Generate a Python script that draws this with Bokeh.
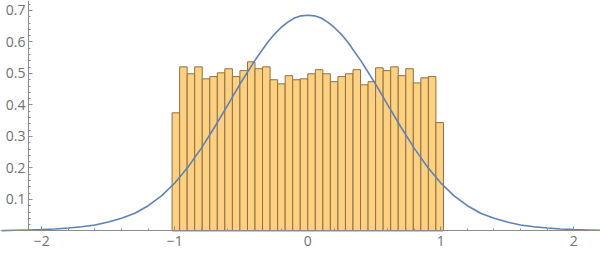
from bokeh.plotting import figure
from bokeh.models import LinearAxis, FixedTicker, Range1d, ColumnDataSource
from bokeh.embed import file_html
from bokeh.resources import INLINE

# Histogram: 36 bins
bin_start = -1.0203
bin_width = 0.05668
bar_heights = [0.375, 0.521, 0.499, 0.521, 0.483, 0.490, 0.502, 0.515, 0.490,
               0.509, 0.537, 0.515, 0.521, 0.480, 0.467, 0.493, 0.480, 0.483,
               0.499, 0.512, 0.499, 0.474, 0.490, 0.499, 0.512, 0.464, 0.474,
               0.518, 0.509, 0.521, 0.493, 0.515, 0.470, 0.486, 0.490, 0.344]

# Curve samples
curve_x = [-2.3, -2.2, -2.1, -2.0, -1.9, -1.8, -1.7, -1.6, -1.5, -1.4, -1.3, -1.2,
           -1.1, -1.0, -0.9, -0.8, -0.7, -0.6, -0.5, -0.4, -0.3, -0.25, -0.2, -0.15,
           -0.1, -0.05, 0.0, 0.05, 0.1, 0.15, 0.2, 0.25, 0.3, 0.4, 0.5, 0.6, 0.7,
           0.8, 0.9, 1.0, 1.1, 1.2, 1.3, 1.4, 1.5, 1.6, 1.7, 1.8, 1.9, 2.0, 2.1, 2.2]
curve_y = [0.001, 0.002, 0.003, 0.004, 0.006, 0.009, 0.013, 0.019, 0.028, 0.040,
           0.056, 0.080, 0.111, 0.152, 0.203, 0.263, 0.330, 0.401, 0.473, 0.540,
           0.600, 0.625, 0.646, 0.663, 0.676, 0.683, 0.685, 0.683, 0.676, 0.663,
           0.646, 0.625, 0.600, 0.540, 0.473, 0.401, 0.330, 0.263, 0.203, 0.152,
           0.111, 0.080, 0.056, 0.040, 0.028, 0.019, 0.013, 0.009, 0.006, 0.004,
           0.003, 0.002]

x_ticks = [-2, -1, 0, 1, 2]
x_tick_labels = {-2: "\u22122", -1: "\u22121", 0: "0", 1: "1", 2: "2"}
x_minor = [-1.8, -1.6, -1.4, -1.2, -0.8, -0.6, -0.4, -0.2,
           0.2, 0.4, 0.6, 0.8, 1.2, 1.4, 1.6, 1.8]
y_ticks = [0.1, 0.2, 0.3, 0.4, 0.5, 0.6, 0.7]
y_minor = [0.02, 0.04, 0.06, 0.08, 0.12, 0.14, 0.16, 0.18, 0.22, 0.24, 0.26, 0.28,
           0.32, 0.34, 0.36, 0.38, 0.42, 0.44, 0.46, 0.48, 0.52, 0.54, 0.56, 0.58,
           0.62, 0.64, 0.66, 0.68, 0.72]

lefts = [bin_start + i * bin_width for i in range(len(bar_heights))]
rights = [l + bin_width for l in lefts]
bars = ColumnDataSource(dict(left=lefts, right=rights, top=bar_heights,
                             bottom=[0] * len(bar_heights)))
curve = ColumnDataSource(dict(x=curve_x, y=curve_y))

p = figure(width=600, height=256, x_range=Range1d(-2.3105, 2.201),
           y_range=Range1d(-0.0813, 0.7317), x_axis_type=None, y_axis_type=None,
           toolbar_location=None, output_backend="svg", min_border=0)
p.outline_line_color = None
p.xgrid.visible = False
p.ygrid.visible = False

p.quad(left="left", right="right", top="top", bottom="bottom", source=bars,
       fill_color="#fed182", line_color="#8f7040", line_width=1)
p.line("x", "y", source=curve, line_color="#5e81b5", line_width=1.6)

axis_color = "#8c8c8c"
label_color = "#707070"
font = "Open Sans"

xaxis = LinearAxis(fixed_location=0, ticker=FixedTicker(ticks=x_ticks, minor_ticks=x_minor),
                   major_label_overrides=x_tick_labels)
yaxis = LinearAxis(fixed_location=-2.1, ticker=FixedTicker(ticks=y_ticks, minor_ticks=y_minor),
                   bounds=(0, 0.74))
for ax in (xaxis, yaxis):
    ax.axis_line_color = axis_color
    ax.major_tick_line_color = axis_color
    ax.minor_tick_line_color = axis_color
    ax.major_tick_in = 4
    ax.major_tick_out = 0
    ax.minor_tick_in = 2
    ax.minor_tick_out = 0
    ax.major_label_text_color = label_color
    ax.major_label_text_font = font
    ax.major_label_text_font_size = "14px"
xaxis.major_label_standoff = 5
yaxis.major_label_standoff = 3
p.add_layout(xaxis, "below")
p.add_layout(yaxis, "left")

open("out.html", "w").write(file_html(p, INLINE))
